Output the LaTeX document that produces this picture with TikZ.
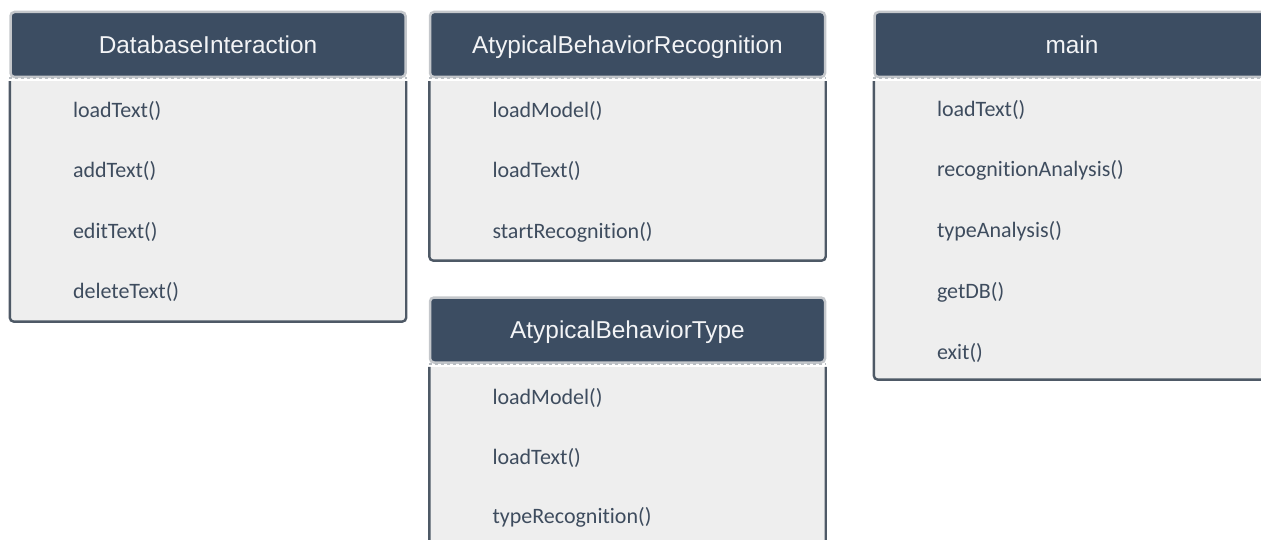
\documentclass[tikz,border=0pt]{standalone}
\usepackage{fontspec}
\setmainfont{Carlito}[Ligatures=NoCommon]
\newfontfamily\headfont{Liberation Sans}
\usetikzlibrary{positioning,calc}
\definecolor{HeadClr}{RGB}{60,77,98}
\definecolor{GlowClr}{RGB}{196,199,203}
\definecolor{BodyClr}{RGB}{238,238,238}
\definecolor{EdgeClr}{RGB}{78,89,102}
\definecolor{ItemClr}{RGB}{62,76,94}

\tikzset{
  classhead/.style={fill=HeadClr,draw=GlowClr,line width=2.5pt,rounded corners=4pt,
    minimum width=395pt,minimum height=65pt,inner sep=0pt,
    text=white!94!HeadClr,font=\headfont\fontsize{24.4}{28}\selectfont,
    text height=17.5pt,text depth=0pt},
  classbody/.style={fill=BodyClr,minimum width=396pt,inner sep=0pt,node distance=3pt},
  bodyedge/.style={draw=EdgeClr,line width=2.4pt,rounded corners=4pt},
  headdash/.style={draw=white!60!EdgeClr,line width=1.5pt,dash pattern=on 3pt off 3pt},
  item/.style={anchor=base west,inner sep=0pt,text=ItemClr,font=\fontsize{22}{26}\selectfont}
}

\begin{document}
\begin{tikzpicture}[x=1pt,y=-1pt]
\useasboundingbox (0,0) rectangle (1261,540);
\clip (0,0) rectangle (1261,540);

% DatabaseInteraction
\node[classhead] (dbHead) at (208,44.5) {DatabaseInteraction};
\node[classbody,minimum height=240pt,below=of dbHead] (dbBody) {};
\draw[bodyedge] (dbBody.north west) -- (dbBody.south west) -- (dbBody.south east) -- (dbBody.north east);
\draw[headdash] (dbHead.south west) -- (dbHead.south east);
\foreach \m [count=\i] in {loadText(),addText(),editText(),deleteText()}
  \node[item] (db\i) at ($(dbBody.north west)+(63,36+60.5*\i-60.5)$) {\m};

% AtypicalBehaviorRecognition
\node[classhead] (recHead) at (627.5,44.5) {AtypicalBehaviorRecognition};
\node[classbody,minimum height=179pt,below=of recHead] (recBody) {};
\draw[bodyedge] (recBody.north west) -- (recBody.south west) -- (recBody.south east) -- (recBody.north east);
\draw[headdash] (recHead.south west) -- (recHead.south east);
\foreach \m [count=\i] in {loadModel(),loadText(),startRecognition()}
  \node[item] (rec\i) at ($(recBody.north west)+(63,36+60.5*\i-60.5)$) {\m};

% AtypicalBehaviorType
\node[classhead] (typHead) at (627.5,330) {AtypicalBehaviorType};
\node[classbody,minimum height=190pt,below=of typHead] (typBody) {};
\draw[bodyedge] (typBody.north west) -- (typBody.south west) -- (typBody.south east) -- (typBody.north east);
\draw[headdash] (typHead.south west) -- (typHead.south east);
\foreach \m [count=\i] in {loadModel(),loadText(),typeRecognition()}
  \node[item] (typ\i) at ($(typBody.north west)+(63,38+59.5*\i-59.5)$) {\m};

% main
\node[classhead] (mainHead) at (1072,44.5) {main};
\node[classbody,minimum height=298pt,below=of mainHead] (mainBody) {};
\draw[bodyedge] (mainBody.north west) -- (mainBody.south west) -- (mainBody.south east) -- (mainBody.north east);
\draw[headdash] (mainHead.south west) -- (mainHead.south east);
\foreach \m [count=\i] in {loadText(),recognitionAnalysis(),typeAnalysis(),getDB(),exit()}
  \node[item] (main\i) at ($(mainBody.north west)+(63,35+60.75*\i-60.75)$) {\m};

\end{tikzpicture}
\end{document}
